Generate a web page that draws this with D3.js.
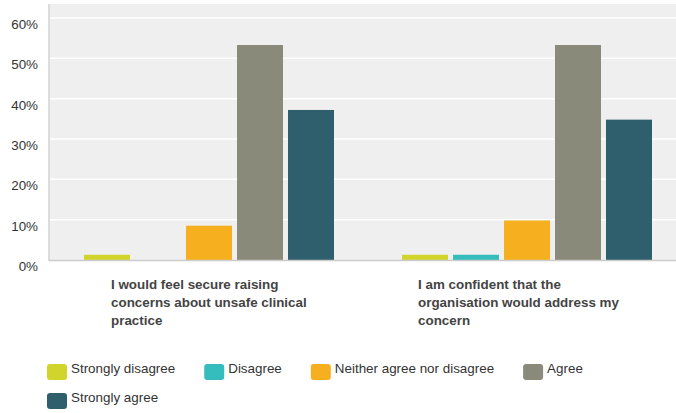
<!DOCTYPE html>
<html><head><meta charset="utf-8">
<script src="https://cdn.jsdelivr.net/npm/d3@7"></script>
<style>body{margin:0;background:#fff;}svg{display:block;font-family:"Liberation Sans",Arial,sans-serif;}</style>
</head><body><svg id="c" width="676" height="413"></svg>
<script>
const categories = [
  ["I would feel secure raising", "concerns about unsafe clinical", "practice"],
  ["I am confident that the", "organisation would address my", "concern"]
];
const seriesNames = ["Strongly disagree", "Disagree", "Neither agree nor disagree", "Agree", "Strongly agree"];
const seriesColors = ["#d0d42b", "#35bdbd", "#f6b01f", "#8a8a7a", "#2f5f6c"];
const values = [
  [1.3, 0, 8.5, 53.3, 37.2],
  [1.3, 1.3, 9.8, 53.3, 34.8]
];
const yTicks = [0, 10, 20, 30, 40, 50, 60];

const svg = d3.select("#c");
const W = 676;
const FS = 13.4;
const catKeys = categories.map((c, i) => "c" + i);
const x0 = d3.scaleBand().domain(catKeys).range([50, 686]).paddingInner(0).paddingOuter(0);
const x1 = d3.scaleBand().domain(seriesNames).range([0, x0.bandwidth()]).paddingInner(0.098).paddingOuter(0.667);
const y = d3.scaleLinear().domain([0, 60]).range([260, 18]);

// panel
svg.append("rect").attr("x", 50).attr("y", 4).attr("width", W - 50).attr("height", 256).attr("fill", "#efefef");
// gridlines
svg.append("g").selectAll("line").data(yTicks.filter(t => t > 0)).join("line")
  .attr("x1", 50).attr("x2", W).attr("y1", d => y(d)).attr("y2", d => y(d))
  .attr("stroke", "#fff").attr("stroke-width", 1.5);
// left axis line
svg.append("line").attr("x1", 49).attr("x2", 49).attr("y1", 4).attr("y2", 261).attr("stroke", "#dcdcdc").attr("stroke-width", 2);

// bars
values.forEach((vals, gi) => {
  svg.append("g").attr("transform", `translate(${x0(catKeys[gi])},0)`)
    .selectAll("rect").data(vals.map((v, si) => ({v, si}))).join("rect")
    .attr("x", d => x1(seriesNames[d.si])).attr("width", x1.bandwidth())
    .attr("y", d => y(d.v)).attr("height", d => y(0) - y(d.v))
    .attr("fill", d => seriesColors[d.si]);
});

// baseline
svg.append("line").attr("x1", 49).attr("x2", W).attr("y1", 260.5).attr("y2", 260.5).attr("stroke", "#cccccc").attr("stroke-width", 1.5);

// y axis labels
svg.append("g").selectAll("text").data(yTicks).join("text")
  .attr("x", 38).attr("y", d => y(d) + 11).attr("text-anchor", "end")
  .attr("font-size", FS).attr("fill", "#333").text(d => d + "%");

// category labels
const labelOffsets = [-98, -109];
categories.forEach((lines, gi) => {
  const cx = x0(catKeys[gi]) + x0.bandwidth() / 2 + labelOffsets[gi];
  const t = svg.append("text").attr("font-size", FS).attr("font-weight", "bold").attr("fill", "#444");
  lines.forEach((ln, li) => {
    t.append("tspan").attr("x", cx).attr("y", 289 + li * 18).text(ln);
  });
});

// legend
const leg = svg.append("g");
let lx = 47, row = 0;
const rowY = [373, 402];
seriesNames.forEach((name, i) => {
  if (i === 4) { lx = 47; row = 1; }
  const g = leg.append("g");
  g.append("rect").attr("x", lx).attr("y", rowY[row] - 9).attr("width", 20).attr("height", 16).attr("rx", 3)
    .attr("fill", seriesColors[i]);
  const tx = g.append("text").attr("x", lx + 24).attr("y", rowY[row]).attr("font-size", FS).attr("fill", "#333").text(name);
  lx = lx + 24 + tx.node().getComputedTextLength() + 29;
});
</script>
</body></html>
